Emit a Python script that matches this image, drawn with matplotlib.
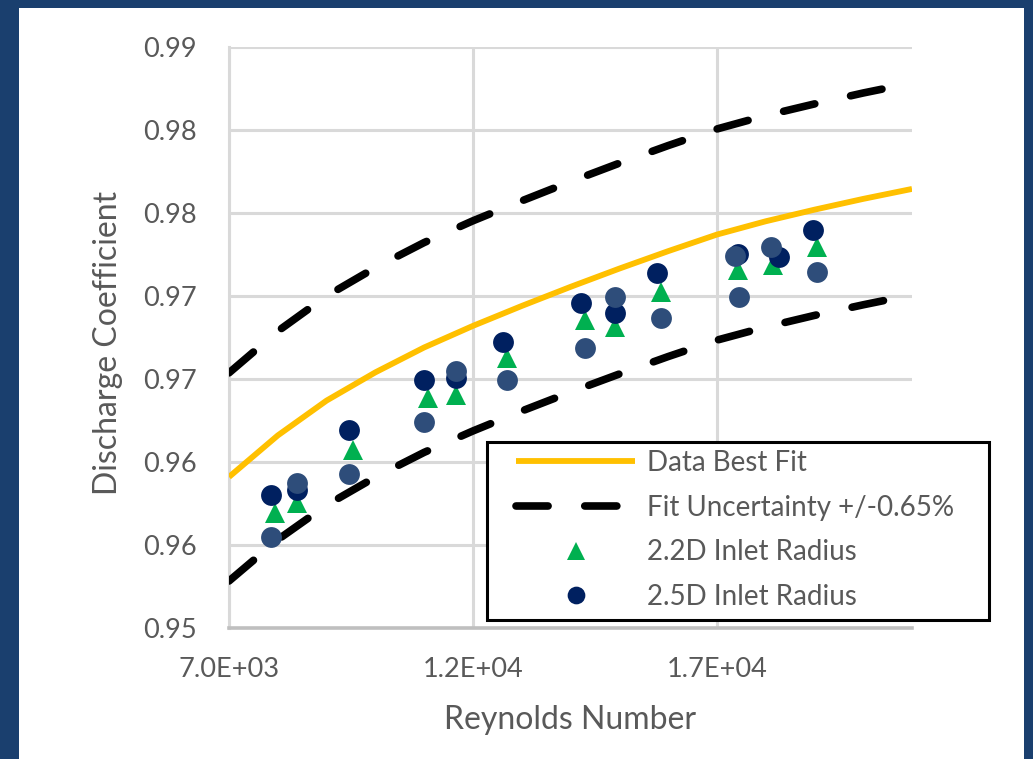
import matplotlib
matplotlib.use("Agg")
import matplotlib.pyplot as plt
from matplotlib.patches import Rectangle

# best fit curve and +/-0.65% band
fit_re = [7000, 8000, 9000, 10000, 11000, 12000, 13000, 14000,
          15000, 16000, 17000, 18000, 19000, 20000, 21000]
fit_cd = [0.9641, 0.9666, 0.9687, 0.9704, 0.9719, 0.9732, 0.9744, 0.97555,
          0.97665, 0.9777, 0.9787, 0.9795, 0.9802, 0.98085, 0.98145]
upper_cd = [0.97037, 0.97288, 0.97500, 0.97671, 0.97822, 0.97953, 0.98073, 0.98189,
            0.98300, 0.98406, 0.98506, 0.98587, 0.98657, 0.98723, 0.98783]
lower_cd = [0.95783, 0.96032, 0.96240, 0.96409, 0.96558, 0.96687, 0.96807, 0.96921,
            0.97030, 0.97135, 0.97234, 0.97313, 0.97383, 0.97447, 0.97507]

# 2.2D inlet radius
re_22 = [7945, 8396, 9546, 11086, 11661, 12708, 14290, 14906, 15850, 17431, 18150, 19053]
cd_22 = [0.96193, 0.96253, 0.96572, 0.96886, 0.96904, 0.97127,
         0.97355, 0.97313, 0.97524, 0.97657, 0.97687, 0.97795]

# 2.5D inlet radius
re_25 = [7862, 8396, 9464, 11004, 11661, 12626, 14207, 14906, 15768, 17431, 18273, 18971]
cd_25 = [0.96301, 0.96331, 0.96693, 0.96994, 0.97006, 0.97223,
         0.97458, 0.97398, 0.97639, 0.97753, 0.97735, 0.97898]

# third series (no legend entry)
re_x = [7862, 8396, 9464, 11004, 11661, 12708, 14290, 14906, 15850, 17370, 17452, 18109, 19053]
cd_x = [0.96048, 0.96374, 0.96428, 0.96741, 0.97048, 0.96994, 0.97187,
        0.97494, 0.97367, 0.97741, 0.97494, 0.97795, 0.97645]

x_ticks = [7000, 12000, 17000]
x_labels = ["7.0E+03", "1.2E+04", "1.7E+04"]
y_ticks = [0.955, 0.96, 0.965, 0.97, 0.975, 0.98, 0.985, 0.99]
y_labels = ["0.95", "0.96", "0.96", "0.97", "0.97", "0.98", "0.98", "0.99"]

plt.rcParams["font.family"] = ["Lato", "DejaVu Sans"]
grey_txt = "#595959"
W, H = 1033, 759

fig = plt.figure(figsize=(10.33, 7.59), dpi=100, facecolor="#1a3f6e")
fig.patches.append(Rectangle((19 / W, 0), 1005 / W, 751 / H,
                             transform=fig.transFigure, facecolor="white",
                             edgecolor="none", zorder=-10))
ax = fig.add_axes([229 / W, 1 - 628 / H, 683 / W, 581 / H])

ax.plot(fit_re, fit_cd, color="#FFC000", lw=4.2, solid_capstyle="butt",
        solid_joinstyle="round", label="Data Best Fit", zorder=3)
ax.plot(fit_re, upper_cd, color="black", lw=5.5, linestyle=(0, (4.2, 4.8)),
        dash_capstyle="round", label="Fit Uncertainty +/-0.65%", zorder=3)
ax.plot(fit_re, lower_cd, color="black", lw=5.5, linestyle=(0, (4.2, 4.8)),
        dash_capstyle="round", zorder=3)
ax.plot(re_22, cd_22, "^", color="#00B050", ms=14.5, mew=0,
        label="2.2D Inlet Radius", zorder=4)
ax.plot(re_25, cd_25, "o", color="#002060", ms=15, mew=0,
        label="2.5D Inlet Radius", zorder=5)
ax.plot(re_x, cd_x, "o", color="#2E4D7A", ms=15, mew=0, zorder=6)

ax.set_xlim(7000, 21000)
ax.set_ylim(0.955, 0.99)
ax.set_xticks(x_ticks)
ax.set_xticklabels(x_labels)
ax.set_yticks(y_ticks)
ax.set_yticklabels(y_labels)
ax.tick_params(length=0, labelsize=19.5, labelcolor=grey_txt)
ax.tick_params(axis="y", pad=23)
ax.tick_params(axis="x", pad=21)
ax.grid(True, color="#d9d9d9", lw=2.2)
ax.set_axisbelow(True)
for s in ["top", "right"]:
    ax.spines[s].set_visible(False)
ax.spines["left"].set_color("#d9d9d9")
ax.spines["left"].set_linewidth(2.2)
ax.spines["bottom"].set_color("#bfbfbf")
ax.spines["bottom"].set_linewidth(2.6)

ax.set_xlabel("Reynolds Number", fontsize=23, color=grey_txt)
ax.set_ylabel("Discharge Coefficient", fontsize=23, color=grey_txt)
ax.xaxis.set_label_coords(0.5, -0.133)
ax.yaxis.set_label_coords(-0.155, 0.49)

# legend box drawn by hand (wide side padding as in the original)
fig.patches.append(Rectangle((487 / W, 1 - 620 / H), 502 / W, 178 / H,
                             transform=fig.transFigure, facecolor="white",
                             edgecolor="black", lw=2.2, zorder=4))
handles, labels = ax.get_legend_handles_labels()
leg = fig.legend(handles, labels, loc="upper left",
                 bbox_to_anchor=(516 / W, 1 - 450 / H), frameon=False,
                 fontsize=20, handlelength=4.3, handletextpad=0.4,
                 borderpad=0, borderaxespad=0, labelspacing=0.67,
                 markerscale=0.85)
leg.set_zorder(6)
for t in leg.get_texts():
    t.set_color(grey_txt)

fig.savefig("out.png", dpi=100, facecolor=fig.get_facecolor())
